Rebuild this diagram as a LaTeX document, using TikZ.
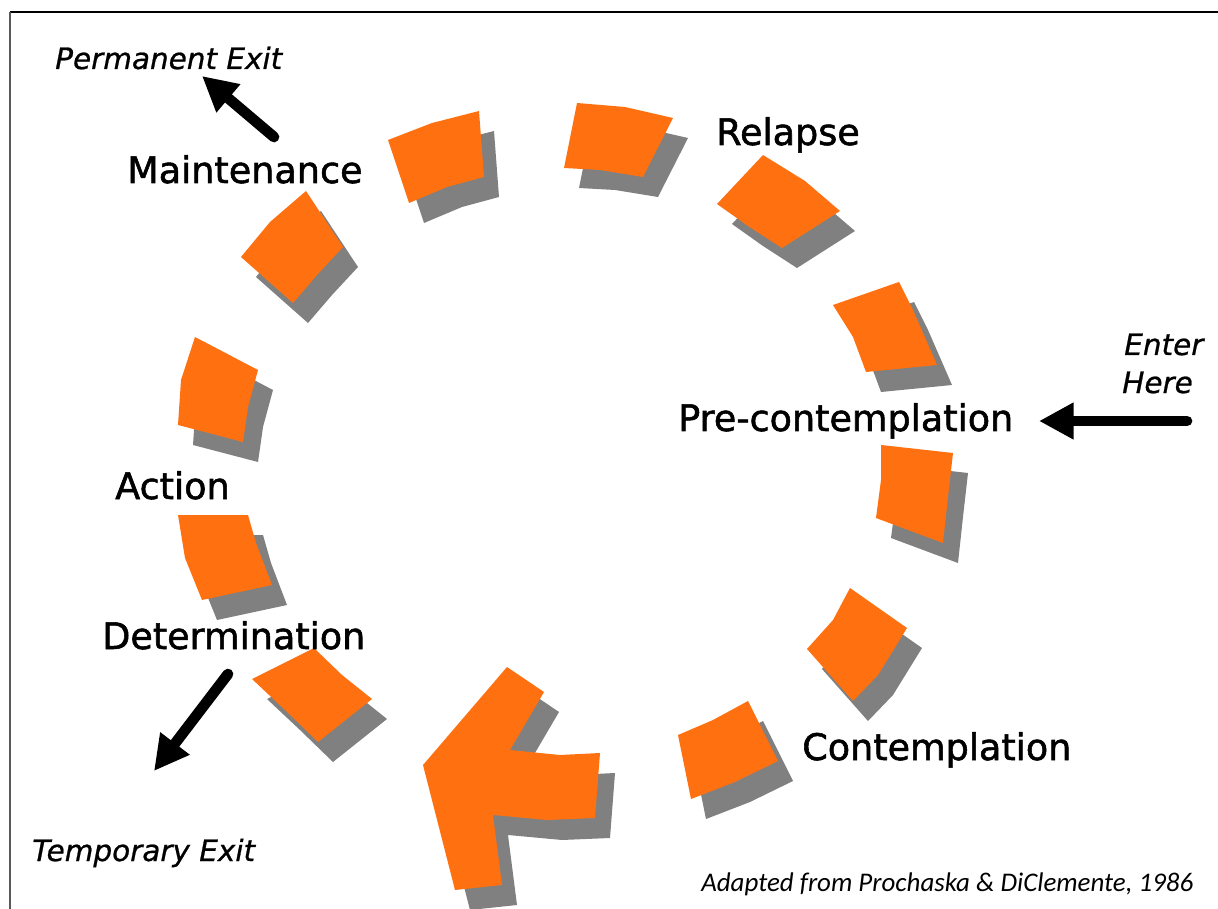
\documentclass[tikz,border=0pt]{standalone}
\usepackage{fontspec}
\newfontfamily\labelfont[FakeBold=1.5]{DejaVu Sans}
\newfontfamily\exitfont[FakeBold=0.8]{DejaVu Sans}
\newfontfamily\notefont{Carlito}
\usetikzlibrary{arrows.meta}
\definecolor{ringorange}{RGB}{255,113,16}
\definecolor{ringshadow}{RGB}{128,128,128}
\begin{document}
\begin{tikzpicture}[x=0.75pt,y=-0.75pt,
  stage/.style={anchor=base west, inner sep=0pt, font=\labelfont\fontsize{27.4}{32}\selectfont},
  exitlabel/.style={anchor=base west, inner sep=0pt, font=\exitfont\itshape\fontsize{22.1}{28}\selectfont},
  notelabel/.style={anchor=base west, inner sep=0pt, font=\notefont\itshape\fontsize{20.2}{24}\selectfont},
  flow/.style={line width=8pt, line cap=round, -{Triangle[length=26pt,width=26pt]}},
  piece/.style={fill=ringorange},
  pieceshadow/.style={fill=ringshadow, shift={(15,20)}}
]
\newcommand\ringpiece[1]{\fill[pieceshadow] #1 -- cycle; \fill[piece] #1 -- cycle;}
\useasboundingbox (0,0) rectangle (1218,909);
\fill[white] (0,0) rectangle (1218,909);

% frame
\draw[line width=1.5pt] (10,12) -- (1218,12);
\draw[line width=1.5pt, black!65] (10,12) -- (10,909);

% ring of pieces, clockwise from the top
\ringpiece{(577,103) -- (625,107) -- (673,118) -- (643,177) -- (600,170) -- (564,168)}
\ringpiece{(717,204) -- (763,155) -- (805,181) -- (840,211) -- (782,248) -- (748,226)}
\ringpiece{(833,305) -- (899,282) -- (913,310) -- (937,365) -- (866,372) -- (853,337)}
\ringpiece{(881,445) -- (953,453) -- (948,497) -- (943,543) -- (876,518) -- (881,480)}
\ringpiece{(850,588) -- (907,628) -- (878,675) -- (853,701) -- (807,649) -- (833,620)}
\ringpiece{(678,735) -- (713,720) -- (748,701) -- (778,761) -- (735,782) -- (691,799)}
\ringpiece{(507,667) -- (544,692) -- (510,750) -- (560,755) -- (600,753) -- (595,818) -- (547,820) -- (493,815) -- (502,885) -- (455,890) -- (423,765)}
\ringpiece{(252,679) -- (314,648) -- (342,675) -- (372,699) -- (318,742) -- (285,710)}
\ringpiece{(178,515) -- (248,515) -- (256,543) -- (272,585) -- (202,600) -- (185,558)}
\ringpiece{(195,337) -- (258,370) -- (248,407) -- (243,442) -- (178,425) -- (181,380)}
\ringpiece{(241,257) -- (270,222) -- (306,191) -- (343,247) -- (317,275) -- (293,303)}
\ringpiece{(388,140) -- (432,123) -- (479,111) -- (484,177) -- (447,187) -- (409,203)}

% stage labels
\node[stage] (maint) at (127,183) {Maintenance};
\node[stage] (relapse) at (716,145) {Relapse};
\node[stage] (precon) at (678,431) {Pre-contemplation};
\node[stage] (action) at (115,499) {Action};
\node[stage] (determ) at (102,649) {Determination};
\node[stage] (contemp) at (802,760) {Contemplation};

% entry and exit labels
\node[exitlabel] (permexit) at (55,69) {Permanent Exit};
\node[exitlabel] (tempexit) at (32,861) {Temporary Exit};
\node[exitlabel] (enter) at (1124,355) {Enter};
\node[exitlabel] (here) at (1122,393) {Here};
\node[notelabel] (credit) at (701,891) {Adapted from Prochaska \& DiClemente, 1986};

% arrows
\coordinate (permTail) at (274,137);
\coordinate (permTip) at (202,76);
\coordinate (tempTail) at (228,674);
\coordinate (tempTip) at (154,771);
\coordinate (enterTail) at (1187,421);
\coordinate (enterTip) at (1039,421);
\draw[flow] (permTail) -- (permTip);
\draw[flow] (tempTail) -- (tempTip);
\draw[flow] (enterTail) -- (enterTip);
\end{tikzpicture}
\end{document}
